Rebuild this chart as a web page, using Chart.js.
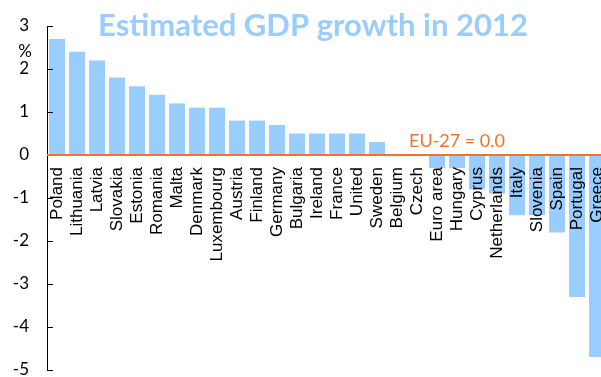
<!DOCTYPE html>
<html>
<head>
<meta charset="utf-8">
<script src="https://cdn.jsdelivr.net/npm/chart.js@4/dist/chart.umd.min.js"></script>
<style>
  html, body { margin: 0; padding: 0; overflow: hidden; background: #fff; }
  #wrap { width: 610px; height: 377px; }
</style>
</head>
<body>
<div id="wrap"><canvas id="gdp-chart"></canvas></div>
<script>
// data
const countries = ["Poland", "Lithuania", "Latvia", "Slovakia", "Estonia", "Romania", "Malta",
  "Denmark", "Luxembourg", "Austria", "Finland", "Germany", "Bulgaria", "Ireland", "France",
  "United", "Sweden", "Belgium", "Czech", "Euro area", "Hungary", "Cyprus", "Netherlands",
  "Italy", "Slovenia", "Spain", "Portugal", "Greece"];
const growth = [2.7, 2.4, 2.2, 1.8, 1.6, 1.4, 1.2, 1.1, 1.1, 0.8, 0.8, 0.7, 0.5, 0.5, 0.5,
  0.5, 0.3, 0, 0, -0.3, -0.3, -0.8, -0.9, -1.4, -1.4, -1.8, -3.3, -4.7];
const yMin = -5;
const yMax = 3;
const titleText = "Estimated GDP growth in 2012";
const unitLabel = "%";
const euLabel = "EU-27 = 0.0";
const euLabelAt = "Hungary";

const BLUE = "#99CCFF";
const ORANGE = "#F0742A";

const extras = {
  id: "extras",
  afterDatasetsDraw(chart) {
    const { ctx, chartArea, scales } = chart;
    const y = scales.y;
    const x = scales.x;
    ctx.save();

    // zero line
    const y0 = y.getPixelForValue(0);
    ctx.strokeStyle = ORANGE;
    ctx.lineWidth = 2;
    ctx.beginPath();
    ctx.moveTo(chartArea.left, y0);
    ctx.lineTo(chartArea.right, y0);
    ctx.stroke();

    // tick marks pointing into the plot
    ctx.strokeStyle = "#000";
    ctx.lineWidth = 1;
    y.ticks.forEach(t => {
      if (t.value === 0) return;
      const py = Math.round(y.getPixelForValue(t.value)) + 0.5;
      ctx.beginPath();
      ctx.moveTo(chartArea.left, py);
      ctx.lineTo(chartArea.left + 6, py);
      ctx.stroke();
    });

    // EU-27 note
    ctx.fillStyle = ORANGE;
    ctx.font = "18px Lato";
    ctx.textAlign = "center";
    ctx.textBaseline = "alphabetic";
    ctx.fillText(euLabel, x.getPixelForValue(countries.indexOf(euLabelAt)), y0 - 8);

    // unit
    ctx.fillStyle = "#000";
    ctx.font = "17px Lato";
    ctx.fillText(unitLabel, 25, 57);

    // title
    ctx.fillStyle = BLUE;
    ctx.font = "bold 31px Lato";
    ctx.fillText(titleText, 313, 36);

    ctx.restore();
  }
};

new Chart(document.getElementById("gdp-chart"), {
  type: "bar",
  data: {
    labels: countries,
    datasets: [{
      data: growth,
      backgroundColor: BLUE,
      categoryPercentage: 1,
      barPercentage: 0.8
    }]
  },
  options: {
    responsive: true,
    maintainAspectRatio: false,
    animation: false,
    layout: { padding: { top: 26, bottom: 7, left: 0, right: 3 } },
    plugins: {
      legend: { display: false },
      title: { display: false },
      tooltip: { enabled: false }
    },
    scales: {
      x: {
        position: { y: 0 },
        grid: { display: false, drawTicks: false },
        border: { display: false },
        ticks: {
          z: 1,
          autoSkip: false,
          minRotation: 90,
          maxRotation: 90,
          padding: 12,
          color: "#000",
          font: { family: "Liberation Sans", size: 17 }
        },
        afterFit: scale => { scale.paddingLeft = 0; scale.paddingRight = 0; }
      },
      y: {
        min: yMin,
        max: yMax,
        grid: { display: false, drawTicks: false },
        border: { display: true, color: "#000", width: 1 },
        ticks: {
          stepSize: 1,
          padding: 18,
          color: "#000",
          font: { family: "Lato", size: 17 }
        },
        afterFit: scale => {
          scale.width = 47;
          scale.paddingTop = 0;
          scale.paddingBottom = 0;
        }
      }
    }
  },
  plugins: [extras]
});
</script>
</body>
</html>
